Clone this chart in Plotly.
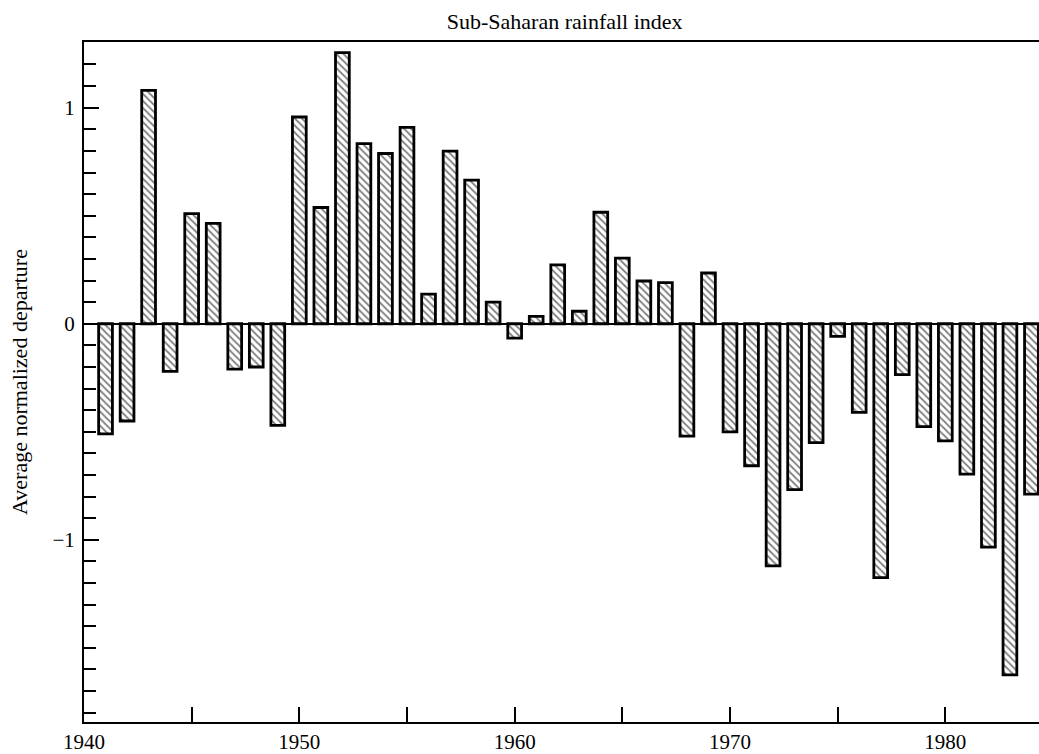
import plotly.graph_objects as go

years = [1941, 1942, 1943, 1944, 1945, 1946, 1947, 1948, 1949, 1950,
         1951, 1952, 1953, 1954, 1955, 1956, 1957, 1958, 1959, 1960,
         1961, 1962, 1963, 1964, 1965, 1966, 1967, 1968, 1969, 1970,
         1971, 1972, 1973, 1974, 1975, 1976, 1977, 1978, 1979, 1980,
         1981, 1982, 1983, 1984]
values = [-0.51, -0.45, 1.08, -0.22, 0.51, 0.465, -0.21, -0.20, -0.47, 0.957,
          0.538, 1.255, 0.834, 0.788, 0.909, 0.137, 0.799, 0.665, 0.10, -0.066,
          0.034, 0.273, 0.058, 0.516, 0.304, 0.198, 0.19, -0.52, 0.235, -0.50,
          -0.657, -1.12, -0.768, -0.55, -0.058, -0.41, -1.175, -0.235, -0.476, -0.542,
          -0.696, -1.034, -1.625, -0.788]
x_tick_vals = [1940, 1950, 1960, 1970, 1980]
x_tick_text = ["1940", "1950", "1960", "1970", "1980"]
y_tick_vals = [-1, 0, 1]
y_tick_text = ["\u22121", "0", "1"]

FONT = "Liberation Serif, Times New Roman, serif"

fig = go.Figure()
fig.add_trace(go.Bar(
    x=years, y=values, width=0.64,
    marker=dict(
        color="white",
        line=dict(color="black", width=2.8),
        pattern=dict(shape="\\", fgcolor="black", bgcolor="white", size=5, solidity=0.35),
    ),
    showlegend=False,
))

fig.update_layout(
    width=1039, height=754,
    margin=dict(l=84, r=0, t=42, b=29),
    paper_bgcolor="white", plot_bgcolor="white",
    font=dict(family=FONT, size=21, color="black"),
    title=dict(text="Sub-Saharan rainfall index", x=0.5435, xanchor="center",
               y=0.972, yanchor="middle", font=dict(family=FONT, size=22)),
)
fig.update_xaxes(
    range=[1940, 1984.35], showgrid=False, zeroline=False,
    showline=True, linecolor="black", linewidth=2, mirror=True,
    tickmode="array", tickvals=x_tick_vals, ticktext=x_tick_text,
    ticks="inside", ticklen=15, tickwidth=1.5, tickcolor="black",
    tickfont=dict(family=FONT, size=21),
    minor=dict(dtick=5, tick0=1940, ticks="inside", ticklen=15, tickwidth=1.5, tickcolor="black", showgrid=False),
)
fig.update_yaxes(
    range=[-1.843, 1.304], showgrid=False,
    zeroline=True, zerolinecolor="black", zerolinewidth=2,
    showline=True, linecolor="black", linewidth=2,
    tickmode="array", tickvals=y_tick_vals, ticktext=y_tick_text,
    ticks="inside", ticklen=15, tickwidth=1.5, tickcolor="black",
    tickfont=dict(family=FONT, size=21), ticklabelstandoff=3,
    minor=dict(dtick=0.1, tick0=0, ticks="inside", ticklen=12, tickwidth=1.5, tickcolor="black", showgrid=False),
    title=dict(text="Average normalized departure", font=dict(family=FONT, size=22), standoff=19),
)

fig.write_html("out.html", config={"displayModeBar": False},
               post_script="document.body.style.margin='0';document.body.style.overflow='hidden';")
